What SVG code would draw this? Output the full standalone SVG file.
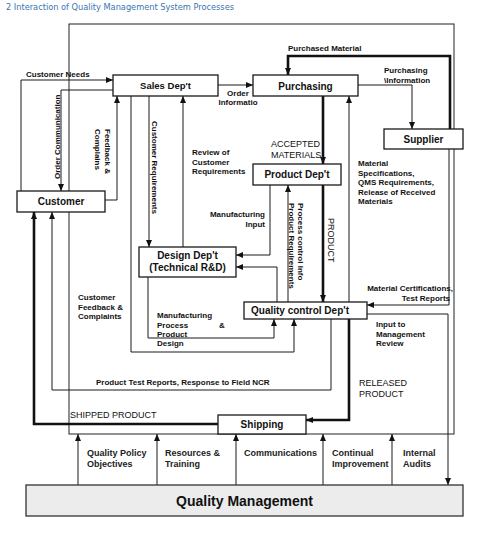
<svg xmlns="http://www.w3.org/2000/svg" width="480" height="539" viewBox="0 0 480 539">
<style>
.bg{fill:#fff}
.box{fill:#fff;stroke:#1a1a1a;stroke-width:1.3}
.qm{fill:#ececec;stroke:#333;stroke-width:1.3}
.outer{fill:none;stroke:#222;stroke-width:1}
.c{fill:none;stroke:#1a1a1a;stroke-width:1;marker-end:url(#a)}
.t{fill:none;stroke:#111;stroke-width:2.6;marker-end:url(#a)}
.n{font-family:"Liberation Sans",Arial,sans-serif;font-weight:bold;font-size:10px;fill:#111;text-anchor:middle}
.l{font-family:"Liberation Sans",Arial,sans-serif;font-weight:bold;font-size:8px;fill:#111}
.u{font-family:"Liberation Sans",Arial,sans-serif;font-size:9px;fill:#111}
.b{font-family:"Liberation Sans",Arial,sans-serif;font-weight:bold;font-size:9px;fill:#222}
.e{text-anchor:end}
.m{text-anchor:middle}
</style>
<defs>
<marker id="a" markerUnits="userSpaceOnUse" markerWidth="7" markerHeight="6" refX="7" refY="3" orient="auto">
<path d="M0,0 L7,3 L0,6 z" fill="#111"/>
</marker>
</defs>
<rect class="bg" x="0" y="0" width="480" height="539"/>
<text x="6" y="10" font-family="DejaVu Sans,Verdana,sans-serif" font-size="8.5" fill="#3a76b0" textLength="228" lengthAdjust="spacingAndGlyphs">2 Interaction of Quality Management System Processes</text>

<rect id="system-boundary" class="outer" x="69" y="24" width="385" height="410"/>

<g id="connectors">
<path class="c" d="M21,191 V80 H113"/>
<path class="c" d="M113,90 H61 V191"/>
<path class="c" d="M105,200 H117 V96"/>
<path class="c" d="M149,96 V247"/>
<path class="c" d="M183,247 V96"/>
<path class="c" d="M131,96 V352 H294 V319"/>
<path class="c" d="M148,277 V338 H274 V319"/>
<path class="c" d="M270,185 V255 H236"/>
<path class="c" d="M277,302 V267 H236"/>
<path class="c" d="M288,302 V185"/>
<path class="t" d="M323,185 V302"/>
<path class="t" d="M323,96 V164"/>
<path class="c" d="M349,302 V96"/>
<path class="c" d="M218,85 H253"/>
<path class="c" d="M358,85 H412 V129"/>
<path class="t" d="M450,129 V56 H288 V75"/>
<path class="c" d="M449,149 V305 H367"/>
<path class="c" d="M367,314 H448 V485"/>
<path class="t" d="M349,319 V420 H306"/>
<path class="t" d="M218,424 H34 V212"/>
<path class="c" d="M331,319 V390 H52 V212"/>
<path class="c" d="M78,485 V434"/>
<path class="c" d="M157,485 V434"/>
<path class="c" d="M236,485 V434"/>
<path class="c" d="M323,485 V434"/>
<path class="c" d="M392,485 V434"/>
</g>

<g id="connector-labels">
<text class="l" x="26" y="77">Customer Needs</text>
<text class="l" transform="translate(60,179) rotate(-90)">Order Communication</text>
<text class="l" transform="translate(105,129) rotate(90)"><tspan x="0" y="0">Feedback &amp;</tspan><tspan x="0" y="10">Complains</tspan></text>
<text class="l" transform="translate(152,121) rotate(90)">Customer Requirements</text>
<text class="l" x="192" y="155">Review of<tspan x="192" y="164.5">Customer</tspan><tspan x="192" y="174">Requirements</tspan></text>
<text class="l m" x="238" y="96">Order<tspan x="238" y="105">Informatio</tspan></text>
<text class="l" x="288" y="51">Purchased Material</text>
<text class="l" x="384" y="73">Purchasing<tspan x="384" y="83">\Information</tspan></text>
<text class="u" x="271" y="147">ACCEPTED<tspan x="271" y="157.5">MATERIALS</tspan></text>
<text class="l" x="358" y="166">Material<tspan x="358" y="175.5">Specifications,</tspan><tspan x="358" y="185">QMS Requirements,</tspan><tspan x="358" y="194.5">Release of Received</tspan><tspan x="358" y="204">Materials</tspan></text>
<text class="l e" x="265" y="217">Manufacturing<tspan x="265" y="227">Input</tspan></text>
<text class="l" transform="translate(298,203) rotate(90)">Process control Info</text>
<text class="l" transform="translate(289,203) rotate(90)">Product Requirements</text>
<text class="u" transform="translate(327.5,218) rotate(90)">PRODUCT</text>
<text class="l" x="78" y="300">Customer<tspan x="78" y="309.5">Feedback &amp;</tspan><tspan x="78" y="319">Complaints</tspan></text>
<text class="l" x="157" y="318">Manufacturing<tspan x="157" y="327.5">Process</tspan><tspan x="157" y="337">Product</tspan><tspan x="157" y="346">Design</tspan></text>
<text class="l" x="219" y="327.5">&amp;</text>
<text class="l e" x="453" y="291">Material Certifications,<tspan x="450" y="300.5">Test Reports</tspan></text>
<text class="l" x="376" y="327">Input to<tspan x="376" y="336.5">Management</tspan><tspan x="376" y="346">Review</tspan></text>
<text class="l" x="96" y="385">Product Test Reports, Response to Field NCR</text>
<text class="u" x="359" y="386">RELEASED<tspan x="359" y="397">PRODUCT</tspan></text>
<text class="u" x="70" y="418">SHIPPED PRODUCT</text>
<text class="b" x="87" y="456">Quality Policy<tspan x="87" y="467">Objectives</tspan></text>
<text class="b" x="165" y="456">Resources &amp;<tspan x="165" y="467">Training</tspan></text>
<text class="b" x="244" y="456">Communications</text>
<text class="b" x="332" y="456">Continual<tspan x="332" y="467">Improvement</tspan></text>
<text class="b" x="403" y="456">Internal<tspan x="403" y="467">Audits</tspan></text>
</g>

<g id="sales">
<rect class="box" x="113" y="75" width="105" height="21"/>
<text class="n" x="165.5" y="89" style="font-size:9.5px">Sales Dep't</text>
</g>
<g id="purchasing">
<rect class="box" x="253" y="75" width="105" height="21"/>
<text class="n" x="305.5" y="89.5">Purchasing</text>
</g>
<g id="supplier">
<rect class="box" x="384" y="129" width="79" height="20"/>
<text class="n" x="423.5" y="142.5">Supplier</text>
</g>
<g id="product">
<rect class="box" x="253" y="164" width="88" height="21"/>
<text class="n" x="297" y="178">Product Dep't</text>
</g>
<g id="customer">
<rect class="box" x="17" y="191" width="88" height="21"/>
<text class="n" x="61" y="205">Customer</text>
</g>
<g id="design">
<rect class="box" x="139" y="247" width="97" height="30"/>
<text class="n" x="187.5" y="259">Design Dep't</text>
<text class="n" x="187.5" y="271">(Technical R&amp;D)</text>
</g>
<g id="quality-control">
<rect class="box" x="244" y="302" width="123" height="17"/>
<text class="n" x="300" y="314">Quality control Dep't</text>
</g>
<g id="shipping">
<rect class="box" x="218" y="415" width="88" height="19"/>
<text class="n" x="262" y="428">Shipping</text>
</g>
<g id="quality-management">
<rect class="qm" x="26" y="485" width="437" height="31"/>
<text class="n" x="244.5" y="505.5" style="font-size:14px">Quality Management</text>
</g>
</svg>
